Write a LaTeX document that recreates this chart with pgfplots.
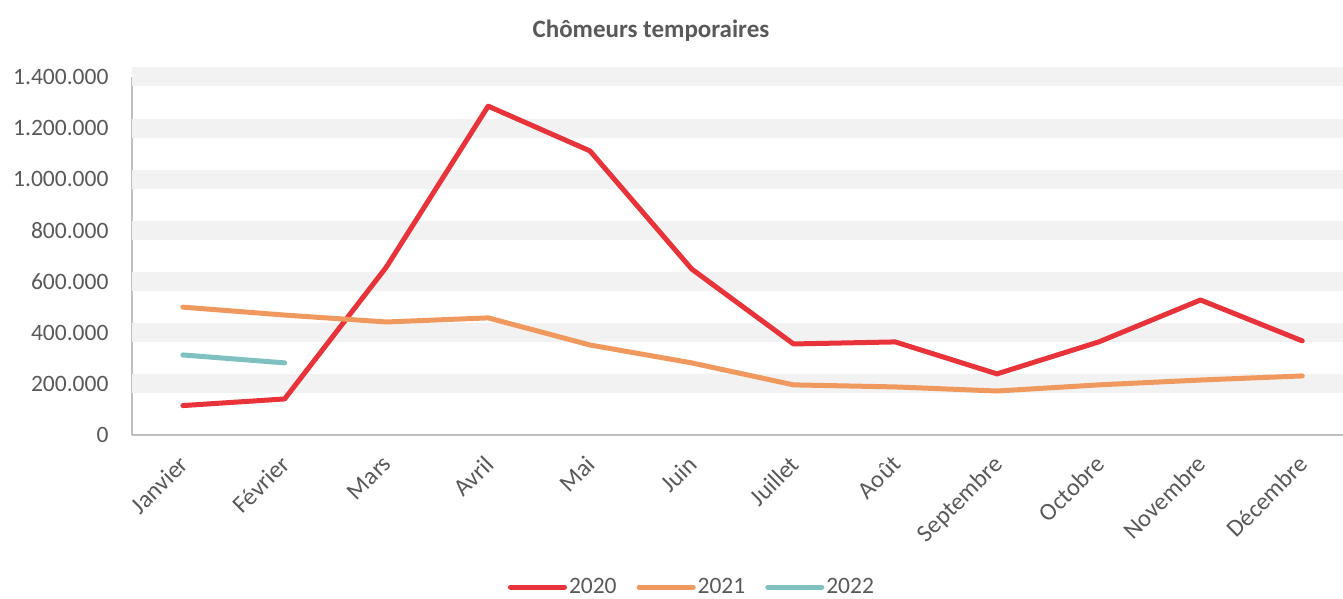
\documentclass[border=0pt]{standalone}
\usepackage{fontspec}
\setmainfont{Carlito}
\usepackage{pgfplots}
\pgfplotsset{compat=1.18}
\definecolor{c2020}{HTML}{E8333A}
\definecolor{c2021}{HTML}{F0995E}
\definecolor{c2022}{HTML}{7FC1C0}
\definecolor{txt}{HTML}{595959}
\definecolor{band}{HTML}{F2F2F2}
\definecolor{axln}{HTML}{BFBFBF}
\begin{document}
\begin{tikzpicture}[x=1pt,y=1pt]
\path[use as bounding box] (0,0) rectangle (1343,599);
\begin{axis}[
  at={(132pt,164pt)}, anchor=south west,
  scale only axis, width=1211pt, height=358pt,
  xmin=-0.5, xmax=11.4, ymin=0, ymax=1400000,
  clip=false,
  axis x line*=bottom, axis y line*=left,
  axis line style={axln, line width=2pt, -},
  major tick length=0pt,
  xtick={0,1,2,3,4,5,6,7,8,9,10,11},
  xticklabels={Janvier,Février,Mars,Avril,Mai,Juin,Juillet,Août,Septembre,Octobre,Novembre,Décembre},
  ytick={0,200000,400000,600000,800000,1000000,1200000,1400000},
  scaled y ticks=false,
  tick label style={font=\fontsize{23.5}{28}\selectfont, text=txt},
  yticklabel style={/pgf/number format/fixed, /pgf/number format/1000 sep={.}, /pgf/number format/assume math mode=true, anchor=east, xshift=-20pt},
  xticklabel style={font=\fontsize{24.5}{29}\selectfont, xshift=-5pt, yshift=-19pt, rotate=45, anchor=north east, inner sep=0pt},
  extra y ticks={200000,400000,600000,800000,1000000,1200000,1400000},
  extra y tick labels={},
  extra y tick style={grid=major, major grid style={draw=band, line width=19pt}},
  legend style={at={(0.4624,-0.4246)}, anchor=center, draw=none, fill=none,
    legend columns=3, font=\fontsize{23.5}{28}\selectfont, text=txt,
    /tikz/every even column/.append style={column sep=18pt}},
  legend image code/.code={\draw[#1, line cap=round] (0pt,0pt) -- (54pt,0pt);},
  every axis plot/.append style={line width=5pt, line cap=round, line join=round},
]
\addplot[c2020] table {
x y
0 115000
1 141000
2 657000
3 1286000
4 1111000
5 649000
6 356000
7 364000
8 239000
9 364000
10 528000
11 368000
};
\addlegendentry{2020}
\addplot[c2021] table {
x y
0 500000
1 469000
2 442000
3 458000
4 352000
5 282000
6 196000
7 188000
8 172000
9 196000
10 215000
11 231000
};
\addlegendentry{2021}
\addplot[c2022] table {
x y
0 313000
1 282000
};
\addlegendentry{2022}
\end{axis}
\node[font=\fontsize{25}{30}\selectfont\bfseries, text=txt] at (651,568) {Chômeurs temporaires};
\end{tikzpicture}
\end{document}
